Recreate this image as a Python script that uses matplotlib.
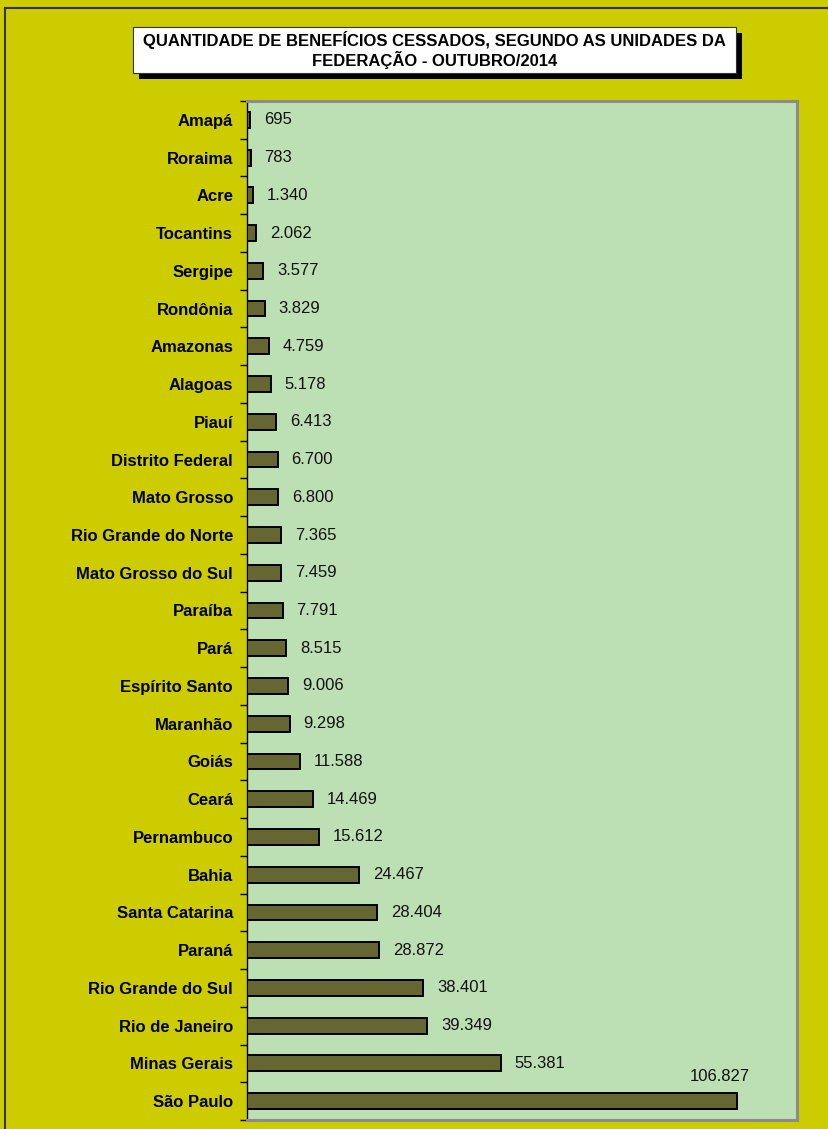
import matplotlib
matplotlib.use("Agg")
import matplotlib.pyplot as plt
from matplotlib.patches import Rectangle
from matplotlib.lines import Line2D
import numpy as np

plt.rcParams['font.family'] = ['Liberation Sans', 'DejaVu Sans']

estados = ["Amapá", "Roraima", "Acre", "Tocantins", "Sergipe", "Rondônia",
           "Amazonas", "Alagoas", "Piauí", "Distrito Federal", "Mato Grosso",
           "Rio Grande do Norte", "Mato Grosso do Sul", "Paraíba", "Pará",
           "Espírito Santo", "Maranhão", "Goiás", "Ceará", "Pernambuco",
           "Bahia", "Santa Catarina", "Paraná", "Rio Grande do Sul",
           "Rio de Janeiro", "Minas Gerais", "São Paulo"]
beneficios = [695, 783, 1340, 2062, 3577, 3829, 4759, 5178, 6413, 6700, 6800,
              7365, 7459, 7791, 8515, 9006, 9298, 11588, 14469, 15612, 24467,
              28404, 28872, 38401, 39349, 55381, 106827]
titulo = "QUANTIDADE DE BENEFÍCIOS CESSADOS, SEGUNDO AS UNIDADES DA\nFEDERAÇÃO - OUTUBRO/2014"

FUNDO = "#CCCC00"
AREA = "#BDDFB4"
BARRA = "#666633"


def fmt_br(v):
    return f"{v:,}".replace(",", ".")


W, H = 829, 1129
fig = plt.figure(figsize=(W / 100, H / 100), dpi=100, facecolor=FUNDO)

ax = fig.add_axes([247 / W, 1 - 1120 / H, (797 - 247) / W, (1120 - 101) / H])
ax.set_facecolor(AREA)

y = np.arange(len(estados))
ax.barh(y, beneficios, height=0.42, color=BARRA, edgecolor="black",
        linewidth=1.4, zorder=3)
ax.set_xlim(0, 120000)
ax.set_ylim(len(estados) - 0.5, -0.5)

ax.set_yticks(y)
ax.set_yticklabels(estados, fontsize=12, fontweight="bold")
ax.tick_params(axis="y", which="major", length=0, pad=10)
ax.set_yticks(np.arange(len(estados) + 1) - 0.5, minor=True)
ax.tick_params(axis="y", which="minor", length=5, width=1, direction="out",
               color="black")
ax.set_xticks([])

for s in ("top", "right", "bottom"):
    ax.spines[s].set_color("#8C8C8C")
    ax.spines[s].set_linewidth(2.2)
ax.spines["left"].set_color("black")
ax.spines["left"].set_linewidth(1.0)

ultimo = len(beneficios) - 1
for i, v in enumerate(beneficios):
    if i == ultimo:
        ax.annotate(fmt_br(v), (v, i), xytext=(-12, 18),
                    textcoords="offset points", ha="center", va="center",
                    fontsize=12, color="#111111")
    else:
        ax.annotate(fmt_br(v), (v, i), xytext=(10, 0),
                    textcoords="offset points", ha="left", va="center",
                    fontsize=12, color="#111111")

# caixa do título com sombra
bx0, by0, bx1, by1 = 133, 27, 736, 73
sh = 6
fig.add_artist(Rectangle(((bx0 + sh) / W, 1 - (by1 + sh) / H),
                         (bx1 - bx0) / W, (by1 - by0) / H,
                         transform=fig.transFigure, facecolor="black",
                         edgecolor="none", zorder=5))
fig.add_artist(Rectangle((bx0 / W, 1 - by1 / H), (bx1 - bx0) / W,
                         (by1 - by0) / H, transform=fig.transFigure,
                         facecolor="white", edgecolor="#333333",
                         linewidth=0.8, zorder=6))
fig.text((bx0 + bx1) / 2 / W, 1 - (by0 + by1) / 2 / H, titulo,
         ha="center", va="center", fontsize=12, fontweight="bold",
         linespacing=1.1, zorder=7)

# moldura externa
fig.add_artist(Line2D([5 / W, 5 / W], [0, 1 - 8 / H], transform=fig.transFigure,
                      color="#333311", linewidth=1.5))
fig.add_artist(Line2D([5 / W, 1], [1 - 8 / H, 1 - 8 / H],
                      transform=fig.transFigure, color="#333311", linewidth=1.5))

fig.savefig("out.png", dpi=100, facecolor=FUNDO)
